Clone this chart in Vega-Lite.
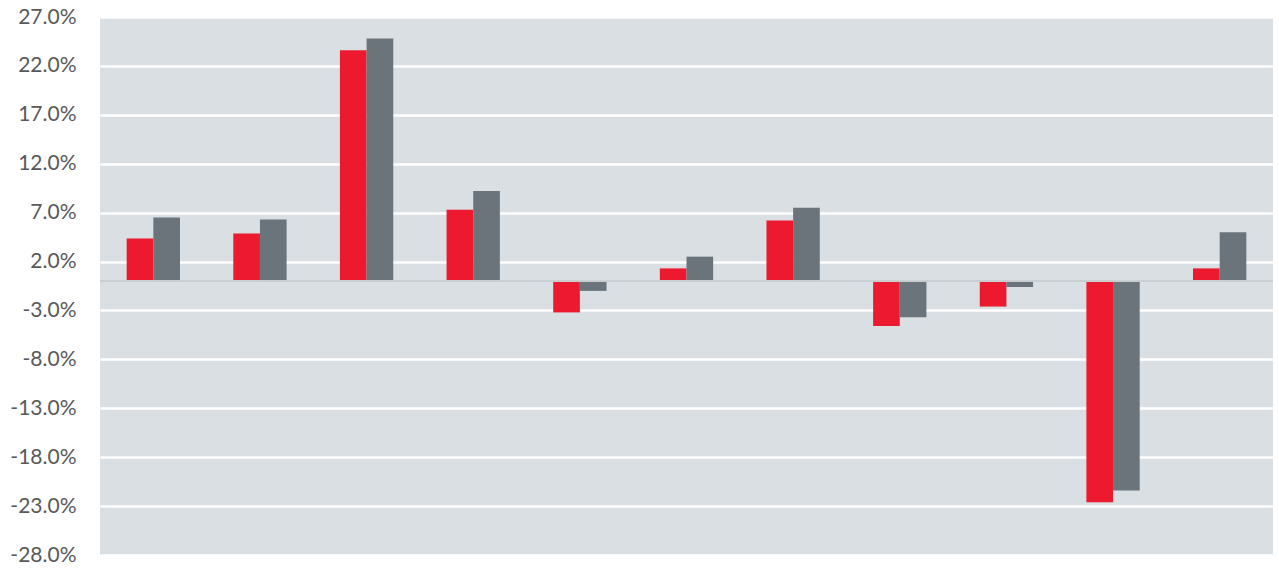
{
  "$schema": "https://vega.github.io/schema/vega-lite/v6.json",
  "width": 1173,
  "height": 538,
  "autosize": {"type": "none"},
  "padding": {"left": 100, "top": 17, "right": 6, "bottom": 14},
  "background": "white",
  "config": {
    "view": {"fill": "#d9dfe2", "stroke": null},
    "font": "Lato"
  },
  "data": {
    "values": [
      {"cat": 1, "series": "A", "value": 0.0435},
      {"cat": 1, "series": "B", "value": 0.065},
      {"cat": 2, "series": "A", "value": 0.0486},
      {"cat": 2, "series": "B", "value": 0.063},
      {"cat": 3, "series": "A", "value": 0.236},
      {"cat": 3, "series": "B", "value": 0.248},
      {"cat": 4, "series": "A", "value": 0.073},
      {"cat": 4, "series": "B", "value": 0.092},
      {"cat": 5, "series": "A", "value": -0.032},
      {"cat": 5, "series": "B", "value": -0.010},
      {"cat": 6, "series": "A", "value": 0.013},
      {"cat": 6, "series": "B", "value": 0.025},
      {"cat": 7, "series": "A", "value": 0.062},
      {"cat": 7, "series": "B", "value": 0.075},
      {"cat": 8, "series": "A", "value": -0.046},
      {"cat": 8, "series": "B", "value": -0.037},
      {"cat": 9, "series": "A", "value": -0.026},
      {"cat": 9, "series": "B", "value": -0.006},
      {"cat": 10, "series": "A", "value": -0.226},
      {"cat": 10, "series": "B", "value": -0.214},
      {"cat": 11, "series": "A", "value": 0.013},
      {"cat": 11, "series": "B", "value": 0.050}
    ]
  },
  "layer": [
    {
      "mark": {"type": "bar"},
      "encoding": {
        "x": {
          "field": "cat", "type": "nominal",
          "scale": {"paddingInner": 0.5, "paddingOuter": 0.25},
          "axis": null
        },
        "xOffset": {"field": "series", "type": "nominal", "scale": {"paddingInner": 0, "paddingOuter": 0}},
        "y": {
          "field": "value", "type": "quantitative",
          "scale": {"domain": [-0.28, 0.27], "nice": false, "zero": false},
          "title": null,
          "axis": {
            "values": [-0.28, -0.23, -0.18, -0.13, -0.08, -0.03, 0.02, 0.07, 0.12, 0.17, 0.22, 0.27],
            "format": ".1%",
            "labelExpr": "replace(datum.label, '\u2212', '-')",
            "title": null,
            "domain": false,
            "ticks": false,
            "labelPadding": 24,
            "labelFontSize": 21,
            "labelColor": "#595959",
            "labelFont": "Lato",
            "grid": true,
            "gridColor": "white",
            "gridWidth": 2.5,
            "gridOpacity": 1
          }
        },
        "color": {
          "field": "series", "type": "nominal",
          "scale": {"domain": ["A", "B"], "range": ["#ed1a2f", "#6b747a"]},
          "legend": null
        }
      }
    },
    {
      "mark": {"type": "rule", "color": "#c9ced1", "strokeWidth": 1.5},
      "encoding": {"y": {"datum": 0, "type": "quantitative"}}
    }
  ]
}
